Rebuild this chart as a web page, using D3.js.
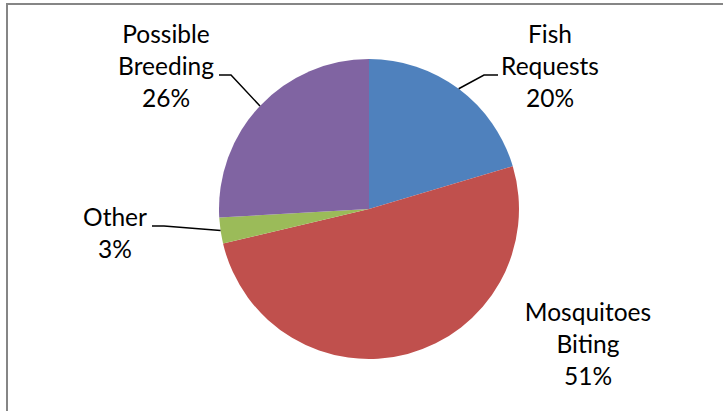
<!DOCTYPE html>
<html><head><meta charset="utf-8">
<script src="https://cdn.jsdelivr.net/npm/d3@7"></script>
<style>html,body{margin:0;padding:0;background:#fff;overflow:hidden}</style>
</head><body>
<svg id="c" width="723" height="411"></svg>
<script>
const categories = ["Fish Requests", "Mosquitoes Biting", "Other", "Possible Breeding"];
const labelLines = [["Fish", "Requests"], ["Mosquitoes", "Biting"], ["Other"], ["Possible", "Breeding"]];
const values = [20.4, 50.9, 2.8, 25.9];
const colors = ["#4F81BD", "#C0504D", "#9BBB59", "#8064A2"];

// layout (label center x, first baseline y, leader line: label-side x, elbow x)
const layout = [
  {cx: 550, y: 43, lead: [498, 484]},
  {cx: 588, y: 321, lead: null},
  {cx: 115, y: 226, lead: [152, 164]},
  {cx: 166, y: 43, lead: [219, 231]}
];

const svg = d3.select("#c");
svg.append("rect").attr("x", 7).attr("y", 4).attr("width", 760).attr("height", 460)
  .attr("fill", "#fff").attr("stroke", "#868686").attr("stroke-width", 2);

const cx = 369, cy = 209, r = 150;
const g = svg.append("g").attr("transform", `translate(${cx},${cy})`);
const pie = d3.pie().sort(null).value(d => d);
const arcs = pie(values);
const arc = d3.arc().innerRadius(0).outerRadius(r);
g.selectAll("path").data(arcs).join("path")
  .attr("d", arc).attr("fill", (d, i) => colors[i]);

const total = d3.sum(values);
const fmt = d3.format(".0%");
const lineH = 32;
arcs.forEach((a, i) => {
  const L = layout[i];
  const lines = labelLines[i].concat([fmt(values[i] / total)]);
  const t = svg.append("text").attr("text-anchor", "middle")
    .attr("font-family", "Lato, 'Open Sans', sans-serif").attr("font-size", 24.5).attr("fill", "#000");
  lines.forEach((s, k) => t.append("tspan").attr("x", L.cx).attr("y", L.y + k * lineH).text(s));
  if (L.lead) {
    const mid = (a.startAngle + a.endAngle) / 2;
    const px = cx + r * Math.sin(mid), py = cy - r * Math.cos(mid);
    const ly = L.y + (lines.length - 2) * lineH;
    svg.append("polyline")
      .attr("points", [[L.lead[0], ly], [L.lead[1], ly], [px, py]].map(p => p.join(",")).join(" "))
      .attr("fill", "none").attr("stroke", "#000").attr("stroke-width", 1.5);
  }
});
</script>
</body></html>
